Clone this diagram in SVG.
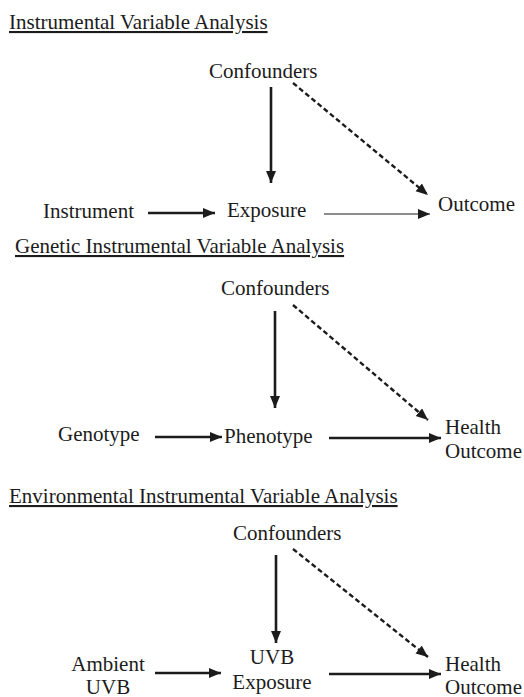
<svg xmlns="http://www.w3.org/2000/svg" width="524" height="697" viewBox="0 0 524 697" font-family="'Liberation Serif', 'DejaVu Serif', 'Times New Roman', Times, serif">
  <style>
    text { font-family: 'Liberation Serif', 'DejaVu Serif', 'Times New Roman', Times, serif; font-size: 21px; fill: #1c1c1c; }
    .title { text-decoration: underline; }
    .mid { text-anchor: middle; }
    .c { stroke: #1c1c1c; fill: none; }
    .thick { stroke-width: 2.6; marker-end: url(#head); }
    .thin { stroke-width: 1.2; marker-end: url(#head); }
    .dash { stroke-width: 2.4; stroke-dasharray: 5 3; marker-end: url(#head); }
  </style>
  <defs>
    <marker id="head" markerUnits="userSpaceOnUse" markerWidth="13" markerHeight="11" refX="12" refY="5" orient="auto" viewBox="0 0 13 11">
      <path d="M0,0 L12,5 L0,10 z" fill="#1c1c1c"/>
    </marker>
  </defs>

  <rect width="524" height="697" fill="#ffffff"/>

  <!-- Section 1 -->
  <g id="title1"><text class="title" x="9" y="29">Instrumental Variable Analysis</text></g>
  <g id="confounders1"><text x="209" y="78">Confounders</text></g>
  <g id="instrument"><text x="43" y="218">Instrument</text></g>
  <g id="exposure1"><text x="227" y="217">Exposure</text></g>
  <g id="outcome1"><text x="438" y="211">Outcome</text></g>

  <!-- Section 2 -->
  <g id="title2"><text class="title" x="15" y="253">Genetic Instrumental Variable Analysis</text></g>
  <g id="confounders2"><text x="221" y="295">Confounders</text></g>
  <g id="genotype"><text x="58" y="441">Genotype</text></g>
  <g id="phenotype"><text x="224" y="443">Phenotype</text></g>
  <g id="healthoutcome2"><text x="445" y="434">Health</text><text x="445" y="458">Outcome</text></g>

  <!-- Section 3 -->
  <g id="title3"><text class="title" x="9" y="503">Environmental Instrumental Variable Analysis</text></g>
  <g id="confounders3"><text x="233" y="540">Confounders</text></g>
  <g id="ambientuvb"><text class="mid" x="108" y="671">Ambient</text><text class="mid" x="108" y="694">UVB</text></g>
  <g id="uvbexposure"><text class="mid" x="272" y="664">UVB</text><text class="mid" x="272" y="689">Exposure</text></g>
  <g id="healthoutcome3"><text x="445" y="671">Health</text><text x="445" y="694">Outcome</text></g>

  <g id="connectors">
    <line class="c thick" x1="271" y1="87" x2="271" y2="183"/>
    <line class="c dash" x1="293" y1="83" x2="428" y2="195"/>
    <line class="c thick" x1="148" y1="213" x2="215" y2="213"/>
    <line class="c thin" x1="324" y1="214" x2="430" y2="214"/>

    <line class="c thick" x1="275" y1="311" x2="275" y2="408"/>
    <line class="c dash" x1="293" y1="305" x2="428" y2="420"/>
    <line class="c thick" x1="155" y1="437" x2="222" y2="437"/>
    <line class="c thick" x1="329" y1="438" x2="441" y2="438"/>

    <line class="c thick" x1="276" y1="555" x2="276" y2="643"/>
    <line class="c dash" x1="293" y1="549" x2="428" y2="657"/>
    <line class="c thick" x1="155" y1="673" x2="221" y2="673"/>
    <line class="c thick" x1="329" y1="674" x2="441" y2="674"/>
  </g>
</svg>
